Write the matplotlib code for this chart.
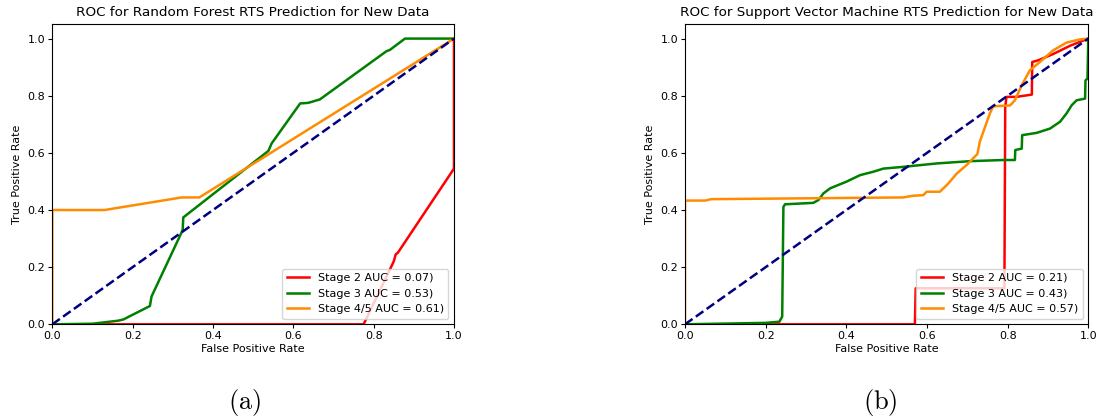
import matplotlib
matplotlib.use("Agg")
import matplotlib.pyplot as plt

plt.rcParams['mathtext.fontset'] = 'cm'

# ---- Random Forest ROC curves ----
rf_s2_fpr = [0.0, 0.775, 0.85, 0.855, 0.86, 1.0, 1.0]
rf_s2_tpr = [0.0, 0.0, 0.22, 0.245, 0.25, 0.545, 1.0]

rf_s3_fpr = [0.0, 0.10, 0.164, 0.177, 0.243, 0.247, 0.3246, 0.326, 0.538, 0.546,
             0.617, 0.637, 0.666, 0.832, 0.84, 0.878, 1.0]
rf_s3_tpr = [0.0, 0.002, 0.0126, 0.017, 0.064, 0.097, 0.33, 0.374, 0.607, 0.633,
             0.773, 0.775, 0.787, 0.956, 0.96, 1.0, 1.0]

rf_s45_fpr = [0.0, 0.0, 0.13, 0.322, 0.366, 1.0]
rf_s45_tpr = [0.0, 0.4, 0.4, 0.444, 0.444, 1.0]

rf_auc = [0.07, 0.53, 0.61]

# ---- Support Vector Machine ROC curves ----
svm_s2_fpr = [0.0, 0.570, 0.572, 0.792, 0.794, 0.797, 0.822, 0.860, 0.861, 0.876,
              0.913, 0.955, 1.0]
svm_s2_tpr = [0.0, 0.0, 0.126, 0.126, 0.76, 0.796, 0.796, 0.804, 0.918, 0.924,
              0.946, 0.975, 1.0]

svm_s3_fpr = [0.0, 0.2, 0.234, 0.241, 0.244, 0.248, 0.318, 0.331, 0.343, 0.36,
              0.40, 0.434, 0.467, 0.492, 0.541, 0.624, 0.707, 0.789, 0.818, 0.819,
              0.835, 0.836, 0.872, 0.905, 0.93, 0.946, 0.959, 0.971, 0.992, 0.993,
              0.998, 1.0]
svm_s3_tpr = [0.0, 0.005, 0.009, 0.027, 0.411, 0.42, 0.425, 0.435, 0.458, 0.476,
              0.499, 0.522, 0.534, 0.545, 0.551, 0.563, 0.571, 0.575, 0.575, 0.61,
              0.615, 0.662, 0.67, 0.685, 0.709, 0.738, 0.767, 0.784, 0.79, 0.854,
              0.86, 1.0]

svm_s45_fpr = [0.0, 0.0, 0.05, 0.065, 0.541, 0.566, 0.591, 0.599, 0.632, 0.653,
               0.674, 0.698, 0.725, 0.731, 0.744, 0.756, 0.764, 0.806, 0.818, 0.835,
               0.855, 0.88, 0.913, 0.946, 0.979, 1.0]
svm_s45_tpr = [0.0, 0.433, 0.433, 0.438, 0.444, 0.45, 0.452, 0.464, 0.464, 0.493,
               0.528, 0.557, 0.596, 0.639, 0.691, 0.738, 0.763, 0.766, 0.784, 0.837,
               0.889, 0.918, 0.959, 0.986, 0.997, 1.0]

svm_auc = [0.21, 0.43, 0.57]

stage_names = ["Stage 2", "Stage 3", "Stage 4/5"]
stage_colors = ["red", "green", "darkorange"]

titles = ["ROC for Random Forest RTS Prediction for New Data",
          "ROC for Support Vector Machine RTS Prediction for New Data"]
panel_labels = ["(a)", "(b)"]

W, H = 1097, 418
fig = plt.figure(figsize=(W / 100, H / 100), dpi=100)

ax_rects = [
    [52.3 / W, (H - 324.3) / H, 401.7 / W, 300.0 / H],
    [685.0 / W, (H - 324.3) / H, 403.3 / W, 300.0 / H],
]

panels = [
    ([(rf_s2_fpr, rf_s2_tpr), (rf_s3_fpr, rf_s3_tpr), (rf_s45_fpr, rf_s45_tpr)], rf_auc),
    ([(svm_s2_fpr, svm_s2_tpr), (svm_s3_fpr, svm_s3_tpr), (svm_s45_fpr, svm_s45_tpr)], svm_auc),
]

for rect, (curves, aucs), title in zip(ax_rects, panels, titles):
    ax = fig.add_axes(rect)
    for (fpr, tpr), auc, name, col in zip(curves, aucs, stage_names, stage_colors):
        ax.plot(fpr, tpr, color=col, lw=1.8, label=f"{name} AUC = {auc:.2f})")
    ax.plot([0, 1], [0, 1], color="navy", lw=1.8, linestyle="--")
    ax.set_xlim(0.0, 1.0)
    ax.set_ylim(0.0, 1.05)
    ax.set_xlabel("False Positive Rate", fontsize=8, labelpad=2)
    ax.set_ylabel("True Positive Rate", fontsize=8, labelpad=4)
    ax.set_title(title, fontsize=9.7, pad=6)
    ax.tick_params(labelsize=8, length=3, pad=2)
    ax.legend(loc="lower right", fontsize=8)

for xpix, label in zip([245, 880], panel_labels):
    fig.text(xpix / W, (H - 403) / H, r"$\mathrm{%s}$" % label,
             fontsize=19, ha="center", va="center")

fig.savefig("out.png", dpi=100)
